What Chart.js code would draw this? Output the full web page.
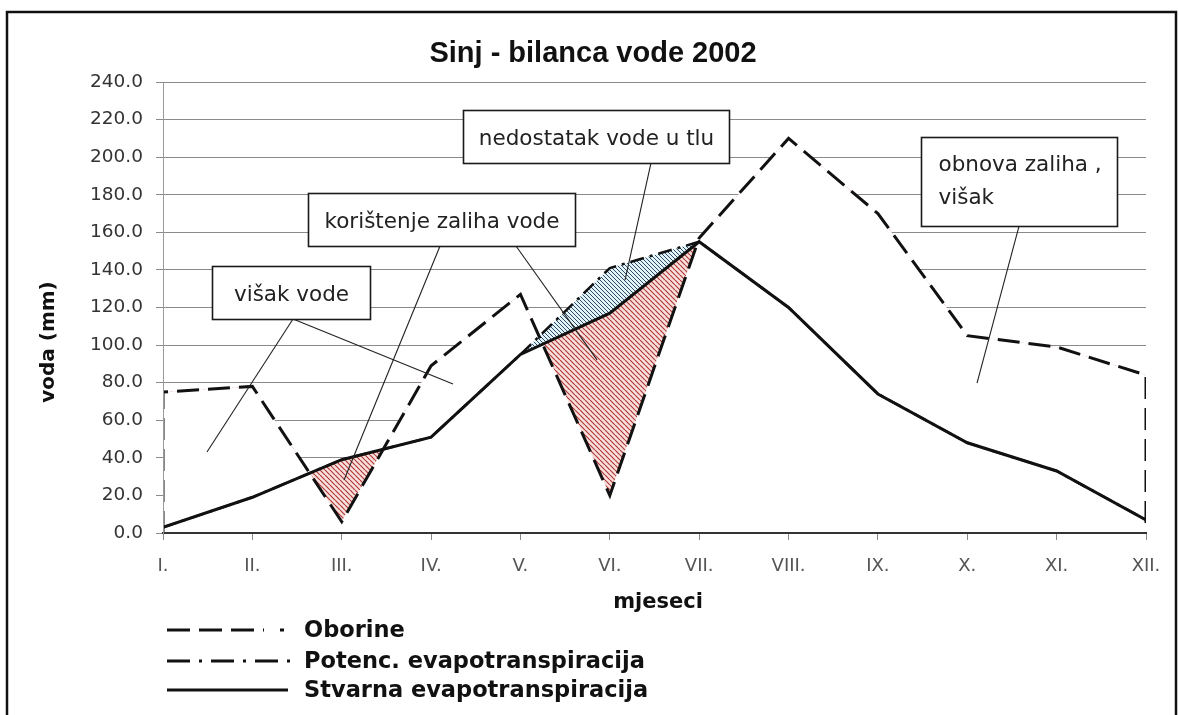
<!DOCTYPE html>
<html>
<head>
<meta charset="utf-8">
<script src="https://cdn.jsdelivr.net/npm/chart.js@4.4.1/dist/chart.umd.min.js"></script>
<style>
html,body{margin:0;padding:0;background:#fff;}
#wrap{width:1179px;height:715px;position:relative;overflow:hidden;}
canvas{display:block;}
</style>
</head>
<body>
<div id="wrap"><canvas id="c" width="1179" height="715"></canvas></div>
<script>
// ---- data ----
const months  = ['I.','II.','III.','IV.','V.','VI.','VII.','VIII.','IX.','X.','XI.','XII.'];
const oborine = [75, 78, 6, 89, 127, 20, 157, 210, 170, 105, 99, 84];     // Oborine
const potenc  = [3, 19, 39, 51, 95, 141, 155, 120, 74, 48, 33, 7];        // Potenc. evapotranspiracija
const stvarna = [3, 19, 39, 51, 95, 117, 155, 120, 74, 48, 33, 7];        // Stvarna evapotranspiracija
const yMin = 0, yMax = 240, yStep = 20;

const titleText  = 'Sinj - bilanca vode 2002';
const yTitleText = 'voda (mm)';
const xTitleText = 'mjeseci';
const legendNames = ['Oborine', 'Potenc. evapotranspiracija', 'Stvarna evapotranspiracija'];

// annotation callouts (in data units: x = month index, y = mm)
const notes = [
  {lines:['nedostatak vode u tlu'], box:[3.357,225.1,6.334,196.9], align:'center',
   pointers:[[5.461,196.9,5.17,134.6]]},
  {lines:['korištenje zaliha vode'], box:[1.623,180.9,4.611,152.7], align:'center',
   pointers:[[3.10,152.7,2.026,28.2],[3.95,152.7,4.857,92.1]]},
  {lines:['višak vode'], box:[0.548,142.1,2.316,113.9], align:'center',
   pointers:[[1.455,113.9,0.492,43.1],[1.455,113.9,3.245,79.3]]},
  {lines:['obnova zaliha ,','višak'], box:[8.482,210.7,10.676,163.4], align:'left',
   pointers:[[9.58,163.4,9.109,79.8]]}
];

const pts = arr => arr.map((v,i)=>({x:i, y:v}));

// ---- hatch patterns ----
function hatch(bg, fg, size, lw){
  const c = document.createElement('canvas'); c.width = size; c.height = size;
  const g = c.getContext('2d');
  g.fillStyle = bg; g.fillRect(0,0,size,size);
  g.strokeStyle = fg; g.lineWidth = lw; g.beginPath();
  for (const k of [-size, 0, size]) { g.moveTo(k,0); g.lineTo(k+size,size); }
  g.stroke();
  return document.getElementById('c').getContext('2d').createPattern(c,'repeat');
}
const redHatch  = hatch('#f8e0de', '#b03a36', 5, 1.2);
const blueHatch = hatch('#e3f4f9', '#2d4b66', 4, 1);
const clear = 'rgba(0,0,0,0)';
const white = '#ffffff';

// ---- custom drawing plugins ----
const frame = {
  id:'frame',
  beforeDraw(chart){
    const ctx = chart.ctx;
    ctx.save();
    ctx.fillStyle = '#fff'; ctx.fillRect(0,0,chart.width,chart.height);
    ctx.restore();
  }
};

const decor = {
  id:'decor',
  afterDraw(chart){
    const {ctx, scales:{x, y}} = chart;
    ctx.save();
    ctx.strokeStyle = '#111'; ctx.lineWidth = 2.5;
    ctx.strokeRect(7, 12, 1169, 730);

    ctx.fillStyle = '#111';
    ctx.font = 'bold 29px "Liberation Sans"';
    ctx.textAlign = 'center'; ctx.textBaseline = 'alphabetic';
    ctx.fillText(titleText, 593, 62);

    ctx.save();
    ctx.translate(49, 342); ctx.rotate(-Math.PI/2);
    ctx.font = 'bold 20px "DejaVu Sans"'; ctx.textBaseline = 'middle';
    ctx.fillText(yTitleText, 0, 0);
    ctx.restore();

    ctx.font = 'bold 21px "DejaVu Sans"'; ctx.textAlign = 'center'; ctx.textBaseline = 'alphabetic';
    ctx.fillText(xTitleText, 658, 608);

    ctx.font = '21.5px "DejaVu Sans"';
    for (const n of notes){
      const x1 = Math.round(x.getPixelForValue(n.box[0]))+0.5, y1 = Math.round(y.getPixelForValue(n.box[1]))+0.5;
      const x2 = Math.round(x.getPixelForValue(n.box[2]))+0.5, y2 = Math.round(y.getPixelForValue(n.box[3]))+0.5;
      ctx.strokeStyle = '#222'; ctx.lineWidth = 1.1;
      for (const p of n.pointers){
        ctx.beginPath();
        ctx.moveTo(x.getPixelForValue(p[0]), y.getPixelForValue(p[1]));
        ctx.lineTo(x.getPixelForValue(p[2]), y.getPixelForValue(p[3]));
        ctx.stroke();
      }
      ctx.fillStyle = '#fff'; ctx.fillRect(x1,y1,x2-x1,y2-y1);
      ctx.lineWidth = 1.6; ctx.strokeStyle = '#1a1a1a'; ctx.strokeRect(x1,y1,x2-x1,y2-y1);
      ctx.fillStyle = '#222';
      if (n.align === 'center'){
        ctx.textAlign = 'center';
        ctx.fillText(n.lines[0], (x1+x2)/2, (y1+y2)/2 + 7.5);
      } else {
        ctx.textAlign = 'left';
        n.lines.forEach((t,i)=>ctx.fillText(t, x1+17, y1+33+i*33));
      }
    }

    // legend
    const rowY = [630, 661, 690], textY = [637, 668, 697];
    ctx.strokeStyle = '#111'; ctx.lineWidth = 3;
    ctx.setLineDash([23,9]);
    ctx.beginPath(); ctx.moveTo(167,rowY[0]); ctx.lineTo(264,rowY[0]); ctx.stroke();
    ctx.setLineDash([]);
    ctx.beginPath(); ctx.moveTo(280,rowY[0]); ctx.lineTo(284,rowY[0]); ctx.stroke();
    ctx.setLineDash([23,9,3,9]);
    ctx.beginPath(); ctx.moveTo(167,rowY[1]); ctx.lineTo(290,rowY[1]); ctx.stroke();
    ctx.setLineDash([]);
    ctx.beginPath(); ctx.moveTo(167,rowY[2]); ctx.lineTo(288,rowY[2]); ctx.stroke();

    ctx.fillStyle = '#111'; ctx.textAlign = 'left'; ctx.textBaseline = 'alphabetic';
    ctx.font = 'bold 22.5px "DejaVu Sans"';
    legendNames.forEach((t,i)=>ctx.fillText(t, 304, textY[i]));
    ctx.restore();
  }
};

new Chart(document.getElementById('c'), {
  type:'line',
  data:{
    datasets:[
      { label:legendNames[0],
        data:[{x:0,y:0}, ...pts(oborine), {x:months.length-1,y:0}],
        borderColor:'#111', borderWidth:3, borderDash:[22,9],
        pointRadius:0, fill:false, tension:0, order:1 },
      { label:legendNames[2], data:pts(stvarna),
        borderColor:'#111', borderWidth:3, pointRadius:0, fill:false, tension:0, order:2 },
      { label:legendNames[1], data:pts(potenc),
        borderColor:'#111', borderWidth:2.5, borderDash:[14,6,3,6],
        pointRadius:0, fill:false, tension:0, order:3 },
      { label:'nedostatak', data:pts(potenc),
        borderColor:clear, borderWidth:0, pointRadius:0, tension:0,
        fill:{target:4, above:blueHatch, below:clear}, order:4 },
      { label:'koristenje', data:pts(stvarna),
        borderColor:clear, borderWidth:0, pointRadius:0, tension:0,
        fill:{target:5, above:redHatch, below:clear}, order:5 },
      { label:'oborine-area', data:pts(oborine),
        borderColor:clear, borderWidth:0, pointRadius:0, tension:0,
        fill:{target:'origin', above:white, below:white}, backgroundColor:white, order:6 }
    ]
  },
  options:{
    responsive:false, animation:false, devicePixelRatio:1,
    layout:{padding:{left:0, top:82, right:33, bottom:142}},
    plugins:{legend:{display:false}, tooltip:{enabled:false}, title:{display:false}},
    scales:{
      x:{
        type:'linear', min:0, max:months.length-1,
        afterFit(s){ s.height = 40; },
        grid:{drawOnChartArea:false, drawTicks:true, tickLength:7, color:'#8a8a8a'},
        border:{display:true, color:'#333', width:2, z:1},
        ticks:{stepSize:1, autoSkip:false, maxRotation:0, padding:16,
               color:'#555', font:{family:'DejaVu Sans', size:18},
               callback:v=>months[v] ?? ''}
      },
      y:{
        min:yMin, max:yMax,
        afterFit(s){ s.width = 163; },
        grid:{color:'#8a8a8a', lineWidth:1, tickLength:7, drawTicks:true},
        border:{display:true, color:'#9a9a9a', width:1, z:1},
        ticks:{stepSize:yStep, padding:13, color:'#333',
               font:{family:'DejaVu Sans', size:18.5},
               callback:v=>v.toFixed(1)}
      }
    }
  },
  plugins:[frame, decor]
});
</script>
</body>
</html>
